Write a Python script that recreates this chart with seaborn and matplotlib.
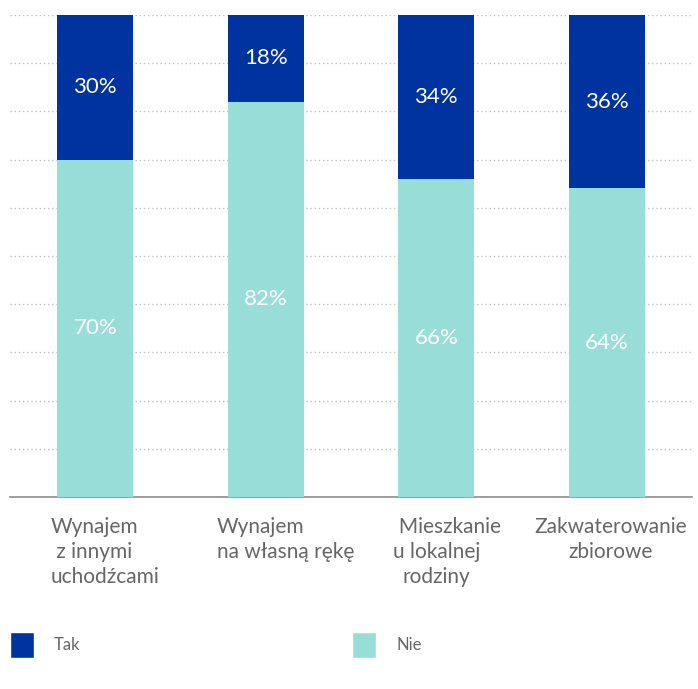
import numpy as np
import pandas as pd
import seaborn as sns
import matplotlib.pyplot as plt
import matplotlib.transforms as mtrans
from matplotlib.patches import Patch

sns.set_style("white")
plt.rcParams['font.family'] = ['Lato', 'DejaVu Sans']

# dane
kategorie = ["Wynajem\n z innymi\nuchodźcami",
             "Wynajem\nna własną rękę",
             "     Mieszkanie\nu lokalnej\nrodziny",
             "Zakwaterowanie\nzbiorowe"]
tak = [30, 18, 34, 36]
nie = [70, 82, 66, 64]

kolor_tak = "#0033a0"
kolor_nie = "#99ddd9"

df = pd.DataFrame({"kat": kategorie, "Tak": tak, "Nie": nie})
df["suma"] = df["Tak"] + df["Nie"]

fig = plt.figure(figsize=(6.98, 6.89), dpi=100)
ax = fig.add_axes([0.0143, 0.2787, 0.977, 0.6996])

# suma (gorna czesc = Tak), potem Nie na wierzchu
sns.barplot(data=df, x="kat", y="suma", color=kolor_tak, width=0.447,
            saturation=1, linewidth=0, ax=ax, zorder=3)
sns.barplot(data=df, x="kat", y="Nie", color=kolor_nie, width=0.447,
            saturation=1, linewidth=0, ax=ax, zorder=3)

ax.set_ylim(0, 100)
ax.set_xlim(-0.5, 3.5)
ax.set_yticks(np.arange(10, 101, 10))
ax.yaxis.grid(True, linestyle=(0, (1, 2)), color="#c0c0c0", linewidth=1)
ax.tick_params(axis="y", left=False, labelleft=False)
ax.tick_params(axis="x", bottom=False, pad=11)
ax.set_xlabel("")
ax.set_ylabel("")
for s in ["top", "right", "left"]:
    ax.spines[s].set_visible(False)
ax.spines["bottom"].set_color("#8c8c8c")
ax.spines["bottom"].set_linewidth(1.2)

przesuniecia = [10, 20, 0, 4]  # px, przesuniecie etykiet w poziomie
for i, lab in enumerate(ax.get_xticklabels()):
    lab.set_fontsize(15)
    lab.set_color("#666666")
    lab.set_linespacing(1.3)
    lab.set_multialignment("left" if i < 2 else "center")
    lab.set_transform(lab.get_transform() + mtrans.ScaledTranslation(
        przesuniecia[i] / 100, 0, fig.dpi_scale_trans))

# etykiety procentowe
for i in range(len(tak)):
    ax.text(i, nie[i] / 2, f"{nie[i]}%", ha="center", va="center",
            color="white", fontsize=16, zorder=4)
    ax.text(i, nie[i] + tak[i] / 2, f"{tak[i]}%", ha="center", va="center",
            color="white", fontsize=16, zorder=4)

uchwyty = [Patch(facecolor=kolor_tak, label="Tak"),
           Patch(facecolor=kolor_nie, label="Nie")]
fig.legend(handles=uchwyty, loc="lower left", bbox_to_anchor=(0.014, 0.045),
           ncol=2, frameon=False, fontsize=12, labelcolor="#666666",
           handlelength=1.45, handleheight=2.0, handletextpad=1.2,
           columnspacing=16.3, borderaxespad=0, borderpad=0)

fig.savefig("out.png", dpi=100)
